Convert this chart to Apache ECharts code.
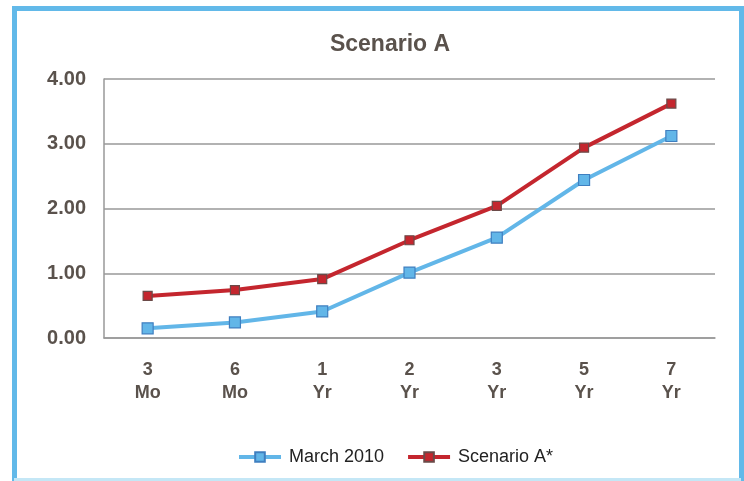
<!DOCTYPE html>
<html><head><meta charset="utf-8">
<script src="https://cdn.jsdelivr.net/npm/echarts@6/dist/echarts.min.js"></script>
<style>html,body{margin:0;padding:0;background:#fff}#c{width:744px;height:481px}</style>
</head><body><div id="c"></div>
<script>
const categories = ['3\nMo', '6\nMo', '1\nYr', '2\nYr', '3\nYr', '5\nYr', '7\nYr'];
const march2010 = [0.15, 0.24, 0.41, 1.01, 1.55, 2.44, 3.12];
const scenarioA = [0.65, 0.74, 0.91, 1.51, 2.04, 2.94, 3.62];
const yTicks = [0, 1, 2, 3, 4];

const FONT = '"Liberation Sans", Arial, sans-serif';
const TXT = '#5a524c';
const chart = echarts.init(document.getElementById('c'), null, {renderer: 'canvas'});
chart.setOption({
  animation: false,
  backgroundColor: '#fff',
  title: {
    text: 'Scenario A', left: 385, top: 28, textAlign: 'center',
    textStyle: {fontFamily: FONT, fontSize: 23, fontWeight: 'bold', color: TXT}
  },
  graphic: [{
    type: 'polyline', silent: true, z: 100,
    shape: {points: [[14.5, 481], [14.5, 8.5], [741.5, 8.5], [741.5, 481]]},
    style: {fill: 'none', stroke: '#62b9e9', lineWidth: 5}
  }, {
    type: 'line', silent: true, z: 100,
    shape: {x1: 14, y1: 479.5, x2: 741, y2: 479.5},
    style: {stroke: '#c4e7f6', lineWidth: 3}
  }],
  legend: {
    bottom: 10, left: 232,
    itemWidth: 42, itemHeight: 12, itemGap: 22,
    lineStyle: {width: 4},
    textStyle: {fontFamily: FONT, fontSize: 18, color: '#222', padding: [0, 0, 0, 3]},
    data: ['March 2010', 'Scenario A*']
  },
  grid: {left: 104, right: 29, top: 79, bottom: 143},
  xAxis: {
    type: 'category', data: categories, boundaryGap: true,
    axisLine: {lineStyle: {color: '#999', width: 1.5}},
    axisTick: {show: false},
    axisLabel: {margin: 21, fontFamily: FONT, fontSize: 18, fontWeight: 'bold', color: TXT, lineHeight: 23}
  },
  yAxis: {
    type: 'value', min: yTicks[0], max: yTicks[yTicks.length - 1], interval: 1,
    axisLine: {show: true, lineStyle: {color: '#999', width: 1.5}},
    axisTick: {show: false},
    splitLine: {lineStyle: {color: '#999', width: 1.5}},
    axisLabel: {margin: 18, fontFamily: FONT, fontSize: 20, fontWeight: 'bold', color: TXT,
      formatter: v => v.toFixed(2)}
  },
  series: [{
    name: 'March 2010', type: 'line', data: march2010,
    symbol: 'rect', symbolSize: 11,
    lineStyle: {color: '#62b6e8', width: 4},
    itemStyle: {color: '#62b6e8', borderColor: '#3f7fc0', borderWidth: 1.2}
  }, {
    name: 'Scenario A*', type: 'line', data: scenarioA,
    symbol: 'rect', symbolSize: 9,
    lineStyle: {color: '#c4262e', width: 4},
    itemStyle: {color: '#c4262e', borderColor: '#6b4a48', borderWidth: 1.2}
  }]
});
</script></body></html>
